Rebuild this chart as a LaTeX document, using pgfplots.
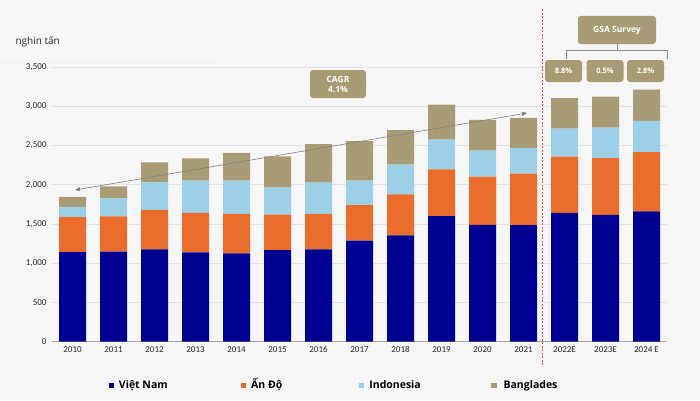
\documentclass[border=0pt]{standalone}
\usepackage{pgfplots}
\pgfplotsset{compat=1.18}
\usepackage{fontspec}
\setmainfont{Open Sans}
\newfontfamily\carlito{Carlito}
\usetikzlibrary{arrows.meta}
\definecolor{bg}{HTML}{F6F6F6}
\definecolor{vn}{HTML}{000092}
\definecolor{ind}{HTML}{EA6D2C}
\definecolor{indo}{HTML}{9DD0E6}
\definecolor{bang}{HTML}{A89C78}
\definecolor{boxc}{HTML}{A89C76}
\definecolor{gridc}{HTML}{E2E2E2}
\definecolor{redd}{HTML}{D9553F}
\pgfplotstableread{
x vn ind indo bang
0  1142 449 127 127
1  1148 450 228 152
2  1176 504 350 254
3  1138 504 410 283
4  1126 503 423 355
5  1168 452 343 397
6  1176 453 398 491
7  1287 452 313 504
8  1354 524 377 440
9  1599 597 380 444
10 1490 613 330 393
11 1485 656 326 385
12 1642 715 359 389
13 1617 723 389 393
14 1659 757 397 398
}\datatable
\begin{document}
\begin{tikzpicture}
\useasboundingbox (0,0) rectangle (700pt,400pt);
\fill[bg] (0,0) rectangle (700pt,400pt);
\fill[white!35!bg] (0,340pt) rectangle (215pt,400pt);
\begin{axis}[
  at={(52pt,58.3pt)}, anchor=south west,
  scale only axis, width=615pt, height=274.7pt,
  ybar stacked, bar width=27pt,
  xmin=-0.5, xmax=14.5, ymin=0, ymax=3500,
  ytick={0,500,...,3500},
  xtick={0,...,14},
  xticklabels={2010,2011,2012,2013,2014,2015,2016,2017,2018,2019,2020,2021,2022E,2023E,2024 E},
  /pgf/number format/assume math mode=true,
  /pgf/number format/1000 sep={,},
  tick label style={font=\carlito\fontsize{9}{10}\selectfont, text=black!85},
  yticklabel style={xshift=-2pt},
  xticklabel style={yshift=-1pt},
  major tick length=0pt,
  ymajorgrids, grid style={gridc, line width=0.6pt},
  axis lines*=left,
  y axis line style={draw=none},
  x axis line style={draw=black!35, line width=0.6pt, -},
  clip=false,
  legend columns=4,
  legend style={at={(0.092,-0.16)}, anchor=west, draw=none, fill=none,
    font=\bfseries\fontsize{10.5}{12}\selectfont, inner sep=0pt,
    nodes={text height=8pt, text depth=2.5pt},
    /tikz/every odd column/.append style={column sep=3pt}},
  legend image code/.code={\fill[#1] (0pt,-2.6pt) rectangle (5.2pt,2.6pt);},
]
\addplot[fill=vn, draw=none] table[x=x,y=vn]{\datatable};
\addlegendentry{\makebox[120pt][l]{Việt Nam}}
\addplot[fill=ind, draw=none] table[x=x,y=ind]{\datatable};
\addlegendentry{\makebox[106pt][l]{Ấn Độ}}
\addplot[fill=indo, draw=none] table[x=x,y=indo]{\datatable};
\addlegendentry{\makebox[120pt][l]{Indonesia}}
\addplot[fill=bang, draw=none] table[x=x,y=bang]{\datatable};
\addlegendentry{\hspace{2pt}Banglades}
\end{axis}
% annotations
\node[anchor=west, font=\fontsize{10}{12}\selectfont, text=black!85] at (12pt,358pt) {nghin tấn};
\draw[redd, dashed, line width=0.7pt, dash pattern=on 2pt off 1.5pt] (542pt,35pt) -- (542pt,392pt);
\draw[black!50, line width=0.6pt, {Triangle[length=5pt,width=4pt]}-{Triangle[length=5pt,width=4pt]}] (75pt,210pt) -- (527pt,287pt);
\node[fill=boxc, rounded corners=3pt, minimum width=56pt, minimum height=28pt, text=white, align=center,
  font=\fontsize{8.5}{10}\selectfont\bfseries, inner sep=1pt] at (338pt,316pt) {CAGR\\4.1\%};
\node[fill=boxc, rounded corners=3pt, minimum width=78pt, minimum height=28pt, text=white,
  font=\fontsize{8.5}{10}\selectfont\bfseries] at (617pt,370pt) {GSA Survey};
\draw[black!45, line width=0.6pt] (566pt,341pt) -- (566pt,349.3pt) -- (667pt,349.3pt) -- (667pt,341pt);
\draw[black!45, line width=0.6pt] (617pt,349.3pt) -- (617pt,356pt);
\foreach \xx/\tt in {563.5/8.8, 605/0.5, 645.5/2.8}{
  \node[fill=boxc, rounded corners=3pt, minimum width=37pt, minimum height=22pt, text=white,
    font=\fontsize{7.5}{9}\selectfont\bfseries, inner sep=1pt] at (\xx pt,329pt) {\tt\%};
}
\end{tikzpicture}
\end{document}
